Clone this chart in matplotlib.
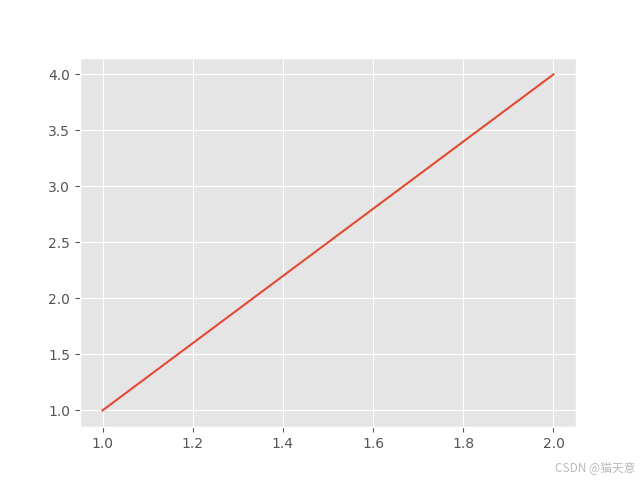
import matplotlib
matplotlib.use("Agg")
import matplotlib.pyplot as plt

plt.style.use("ggplot")

x = [1, 2]
y = [1, 4]

fig, ax = plt.subplots(figsize=(6.4, 4.8), dpi=100)
ax.plot(x, y)
fig.text(0.992, 0.012, "CSDN @猫天意", ha="right", va="bottom", fontsize=8.5,
         color="#bbbbbb", family=["Noto Sans CJK SC", "DejaVu Sans"])
fig.savefig("out.png")
